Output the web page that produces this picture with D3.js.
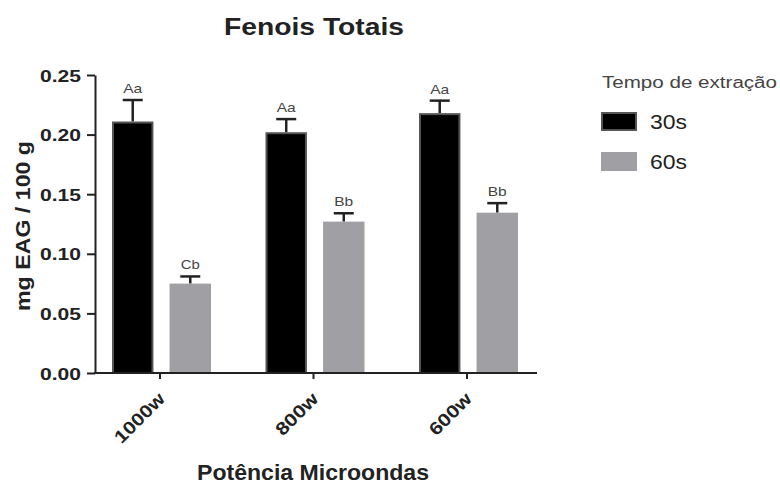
<!DOCTYPE html>
<html><head><meta charset="utf-8">
<script src="https://cdn.jsdelivr.net/npm/d3@7"></script>
<style>body{margin:0;background:#fff;font-family:"Liberation Sans",Arial,sans-serif;}</style>
</head><body><svg id="c" width="780" height="485"></svg>
<script>
const categories = ["1000w", "800w", "600w"];
const series = ["30s", "60s"];
const values30 = [0.211, 0.202, 0.218];
const errors30 = [0.018, 0.011, 0.0105];
const letters30 = ["Aa", "Aa", "Aa"];
const values60 = [0.075, 0.127, 0.1345];
const errors60 = [0.006, 0.007, 0.008];
const letters60 = ["Cb", "Bb", "Bb"];
const yTicks = [0, 0.05, 0.10, 0.15, 0.20, 0.25];

const svg = d3.select("#c");
const ink = "#222";
const fills = {"30s": "#000", "60s": "#a0a0a4"};
const strokes = {"30s": "#555", "60s": "#a0a0a4"};
const FONT = "Liberation Sans, Arial, sans-serif";

const y = d3.scaleLinear().domain([0, 0.25]).range([373, 75]);
const x = d3.scaleBand().domain(categories).range([83.25, 543.75]).paddingInner(0).paddingOuter(0);
const xs = d3.scaleBand().domain(series).range([-48, 51]).paddingInner(0.28).paddingOuter(0);

const data = [];
categories.forEach((c, i) => {
  data.push({c, s: "30s", v: values30[i], e: errors30[i], l: letters30[i]});
  data.push({c, s: "60s", v: values60[i], e: errors60[i], l: letters60[i]});
});
const bw = xs.bandwidth();
const left = d => x(d.c) + x.bandwidth()/2 + xs(d.s);

// error bars + letters
data.forEach(d => {
  const mid = left(d) + bw/2;
  svg.append("line").attr("x1", mid).attr("x2", mid).attr("y1", y(d.v)).attr("y2", y(d.v + d.e))
    .attr("stroke", ink).attr("stroke-width", 2.5);
  svg.append("line").attr("x1", mid - 10).attr("x2", mid + 10).attr("y1", y(d.v + d.e)).attr("y2", y(d.v + d.e))
    .attr("stroke", ink).attr("stroke-width", 2.5);
  svg.append("text").attr("x", mid).attr("y", y(d.v + d.e) - 7).attr("text-anchor", "middle")
    .attr("font-size", 13).attr("fill", "#444").attr("textLength", 19).attr("lengthAdjust", "spacingAndGlyphs").text(d.l);
});
svg.selectAll("rect.bar").data(data).enter().append("rect").attr("class", "bar")
  .attr("x", d => left(d) + 1).attr("width", bw - 2)
  .attr("y", d => y(d.v) + 1).attr("height", d => y(0) - y(d.v) - 1)
  .attr("fill", d => fills[d.s]).attr("stroke", d => strokes[d.s]).attr("stroke-width", 2);

// y axis
const ya = svg.append("g").attr("transform", "translate(95,0)")
  .call(d3.axisLeft(y).tickValues(yTicks).tickFormat(d3.format(".2f")).tickSize(8).tickPadding(6).tickSizeOuter(0));
ya.select(".domain").attr("stroke", ink).attr("stroke-width", 2);
ya.selectAll(".tick line").attr("stroke", ink).attr("stroke-width", 2);
ya.selectAll(".tick text").attr("font-size", 17).attr("font-weight", "bold").attr("fill", ink)
  .attr("font-family", FONT).attr("dy", "0.36em")
  .attr("textLength", 41).attr("lengthAdjust", "spacingAndGlyphs");

// x axis
const xa = svg.append("g").attr("transform", "translate(0,373)")
  .call(d3.axisBottom(x).tickSize(6).tickSizeOuter(0));
xa.select(".domain").remove();
svg.append("line").attr("x1", 94).attr("x2", 537).attr("y1", 373).attr("y2", 373).attr("stroke", ink).attr("stroke-width", 2);
xa.selectAll(".tick line").attr("stroke", ink).attr("stroke-width", 2);
const xLen = {"1000w": 63, "800w": 52, "600w": 52};
xa.selectAll(".tick text").attr("font-size", 18).attr("font-weight", "bold").attr("fill", ink)
  .attr("font-family", FONT)
  .attr("text-anchor", "end").attr("dy", 0).attr("y", 0)
  .attr("textLength", d => xLen[d]).attr("lengthAdjust", "spacingAndGlyphs")
  .attr("transform", "translate(6,27) rotate(-45)");

// titles
svg.append("text").attr("x", 314).attr("y", 35).attr("text-anchor", "middle")
  .attr("font-size", 23).attr("font-weight", "bold").attr("fill", ink)
  .attr("textLength", 180).attr("lengthAdjust", "spacingAndGlyphs").text("Fenois Totais");
svg.append("text").attr("transform", "translate(30,226) rotate(-90)").attr("text-anchor", "middle")
  .attr("font-size", 21).attr("font-weight", "bold").attr("fill", ink)
  .attr("textLength", 170).attr("lengthAdjust", "spacingAndGlyphs").text("mg EAG / 100 g");
svg.append("text").attr("x", 313).attr("y", 480).attr("text-anchor", "middle")
  .attr("font-size", 22).attr("font-weight", "bold").attr("fill", ink)
  .attr("textLength", 232).attr("lengthAdjust", "spacingAndGlyphs").text("Potência Microondas");

// legend
svg.append("text").attr("x", 602).attr("y", 88).attr("font-size", 16).attr("fill", "#444")
  .attr("textLength", 175).attr("lengthAdjust", "spacingAndGlyphs").text("Tempo de extração");
series.forEach((s, i) => {
  const yy = 113 + i * 40;
  svg.append("rect").attr("x", 602).attr("y", yy).attr("width", 34).attr("height", 17)
    .attr("fill", fills[s]).attr("stroke", strokes[s]).attr("stroke-width", 2);
  svg.append("text").attr("x", 650).attr("y", yy + 16).attr("font-size", 21).attr("fill", ink)
    .attr("textLength", 37).attr("lengthAdjust", "spacingAndGlyphs").text(s);
});
</script></body></html>
